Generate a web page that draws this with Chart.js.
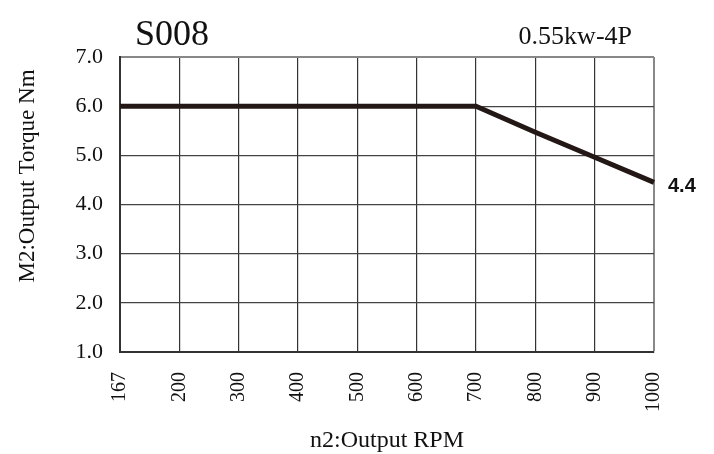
<!DOCTYPE html>
<html>
<head>
<meta charset="utf-8">
<script src="https://cdn.jsdelivr.net/npm/chart.js@4/dist/chart.umd.min.js"></script>
<style>
  html, body { margin: 0; padding: 0; background: #fff; }
  #wrap { width: 714px; height: 454px; position: relative; }
</style>
</head>
<body>
<div id="wrap"><canvas id="c"></canvas></div>
<script>
// S008 torque curve — output torque vs output RPM
var rpmLabels = ['167', '200', '300', '400', '500', '600', '700', '800', '900', '1000'];
var torqueValues = [6.0, 6.0, 6.0, 6.0, 6.0, 6.0, 6.0, 5.47, 4.96, 4.45];
var yTicks = [1, 2, 3, 4, 5, 6, 7];
var endLabel = '4.4';
var modelName = 'S008';
var motorName = '0.55kw-4P';

var serif = '"Liberation Serif", "Times New Roman", serif';

// extra texts: model, motor rating, axis titles, end value
var textPlugin = {
  id: 'texts',
  afterDraw: function (chart) {
    var ctx = chart.ctx;
    var area = chart.chartArea;
    var x = chart.scales.x, y = chart.scales.y;
    ctx.save();
    ctx.fillStyle = '#111';
    ctx.textBaseline = 'alphabetic';

    ctx.font = '36px ' + serif;
    ctx.textAlign = 'left';
    ctx.fillText(modelName, 135, 45);

    ctx.font = '26px ' + serif;
    ctx.textAlign = 'right';
    ctx.fillText(motorName, 632, 44);

    ctx.font = '24px ' + serif;
    ctx.textAlign = 'center';
    ctx.fillText('n2:Output RPM', (area.left + area.right) / 2, 447);

    ctx.save();
    ctx.translate(34, 176);
    ctx.rotate(-Math.PI / 2);
    ctx.font = '23px ' + serif;
    ctx.textAlign = 'center';
    ctx.fillText('M2:Output Torque Nm', 0, 0);
    ctx.restore();

    var last = torqueValues.length - 1;
    var px = x.getPixelForValue(last);
    var py = y.getPixelForValue(torqueValues[last]);
    ctx.font = 'bold 20px "Liberation Sans", Arial, sans-serif';
    ctx.textAlign = 'left';
    ctx.textBaseline = 'middle';
    ctx.fillText(endLabel, px + 14, py + 4);
    ctx.restore();
  }
};

new Chart(document.getElementById('c'), {
  type: 'line',
  data: {
    labels: rpmLabels,
    datasets: [{
      data: torqueValues,
      borderColor: '#231815',
      borderWidth: 5,
      pointRadius: 0,
      tension: 0,
      fill: false
    }]
  },
  options: {
    responsive: true,
    maintainAspectRatio: false,
    animation: false,
    devicePixelRatio: 1,
    layout: { padding: { left: 0, top: 57, right: 60, bottom: 0 } },
    plugins: { legend: { display: false }, tooltip: { enabled: false } },
    scales: {
      x: {
        type: 'category',
        offset: false,
        afterFit: function (s) { s.height = 102; },
        grid: {
          drawTicks: false,
          color: function (c) { return c.index === rpmLabels.length - 1 ? '#888' : '#333'; },
          lineWidth: function (c) { return c.index === rpmLabels.length - 1 ? 2 : 1.2; }
        },
        border: { color: '#333', width: 2 },
        ticks: {
          minRotation: 90, maxRotation: 90, autoSkip: false, padding: 20,
          color: '#111',
          font: { family: serif, size: 20 }
        }
      },
      y: {
        min: yTicks[0],
        max: yTicks[yTicks.length - 1],
        afterFit: function (s) { s.width = 120; },
        afterBuildTicks: function (s) { s.ticks = yTicks.map(function (v) { return { value: v }; }); },
        grid: {
          drawTicks: false,
          color: function (c) { return c.tick && c.tick.value === 7 ? '#888' : '#444'; },
          lineWidth: function (c) { return c.tick && c.tick.value === 7 ? 2 : 1.2; }
        },
        border: { color: '#333', width: 2 },
        ticks: {
          padding: 17,
          color: '#111',
          font: { family: serif, size: 22 },
          callback: function (v) { return Number(v).toFixed(1); }
        }
      }
    }
  },
  plugins: [textPlugin]
});
</script>
</body>
</html>
